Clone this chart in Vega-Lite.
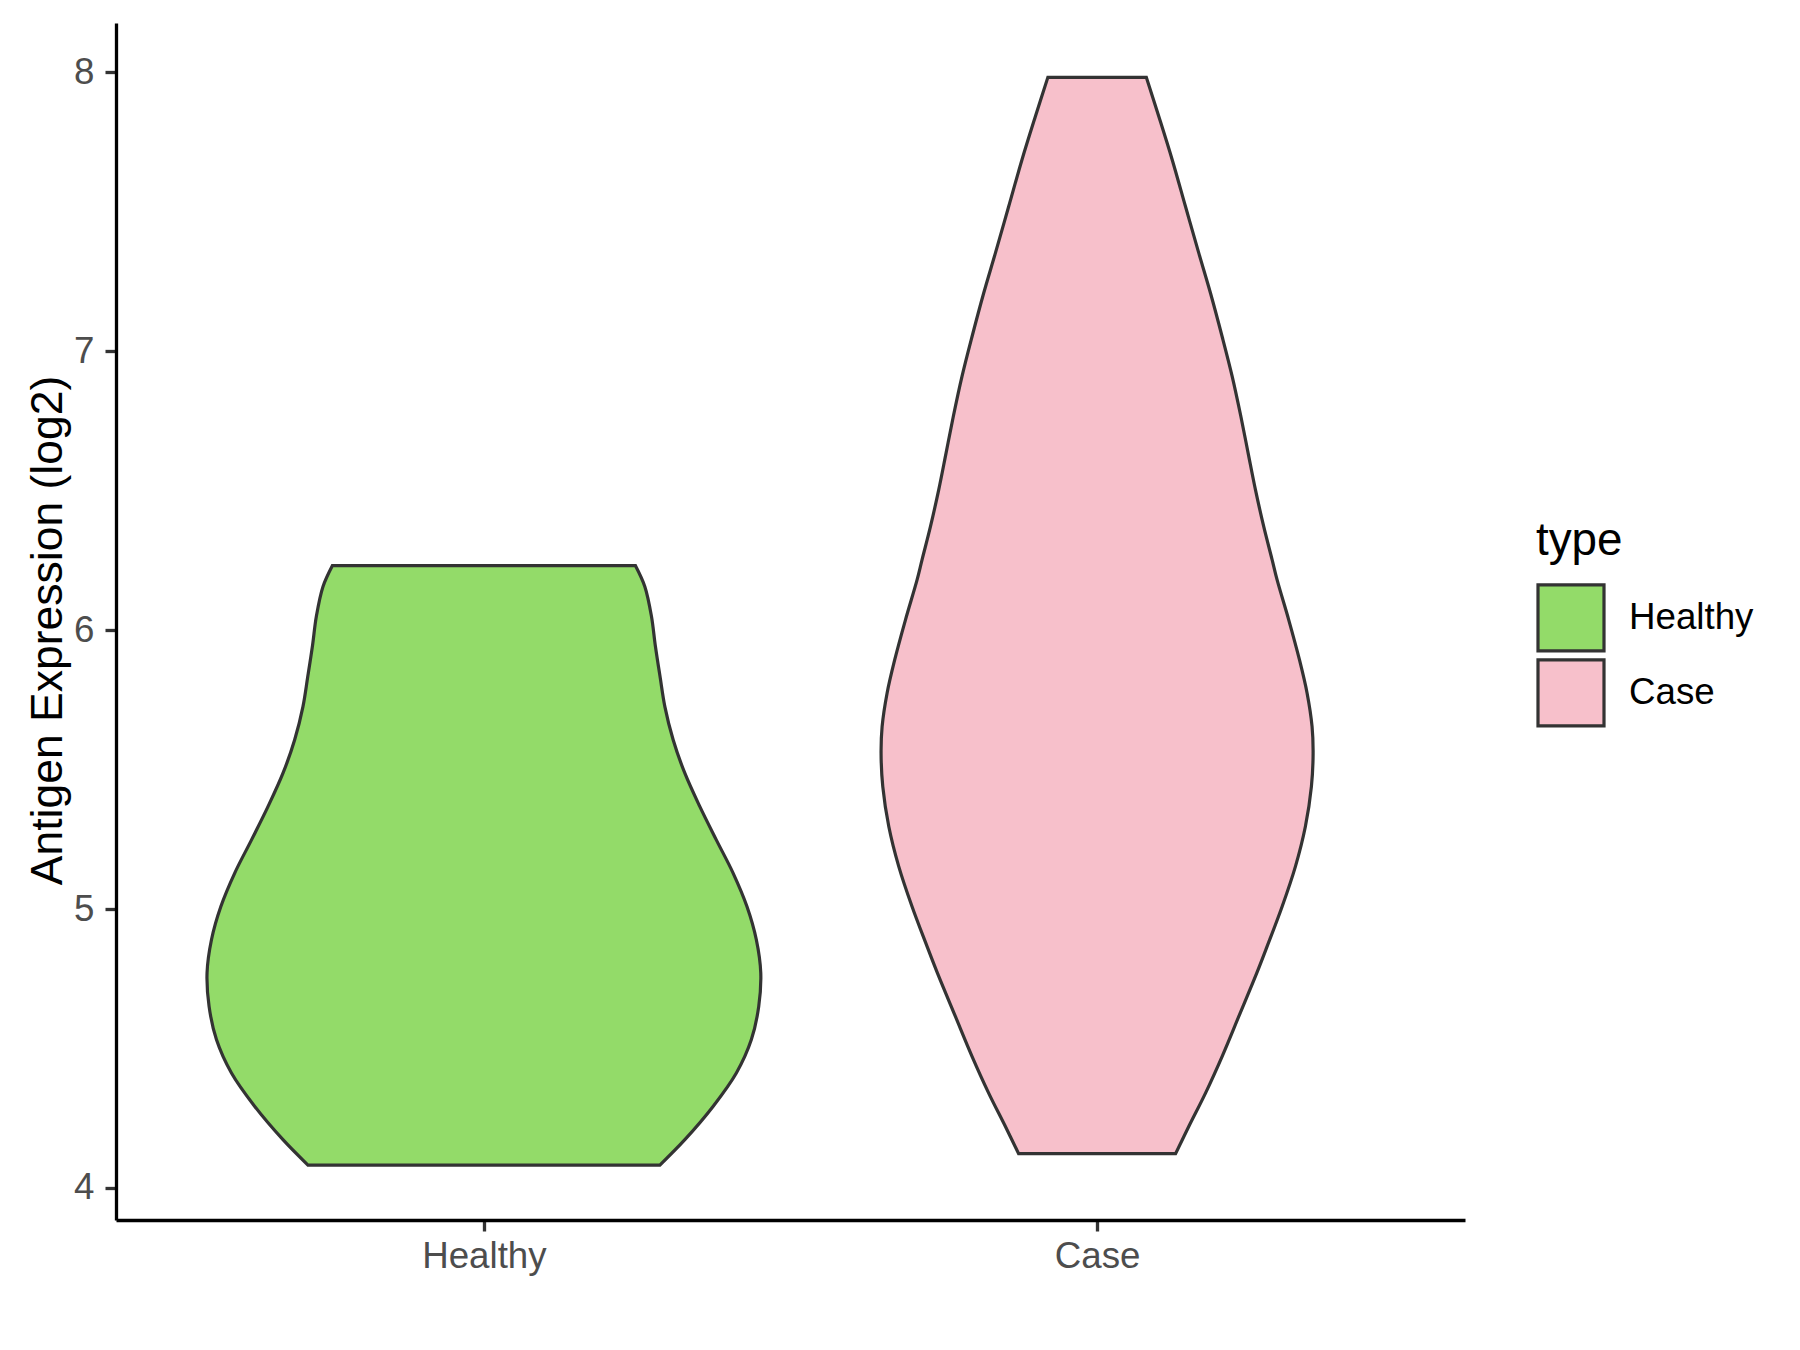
{
  "$schema": "https://vega.github.io/schema/vega-lite/v6.json",
  "autosize": {"type": "none"},
  "padding": {"left": 116, "top": 23, "right": 335, "bottom": 130},
  "width": 1349,
  "height": 1197,
  "background": "white",
  "data": {
    "values": [
      {"type": "Healthy", "y": 4.082, "lo": 0.713, "hi": 1.287},
      {"type": "Healthy", "y": 4.173, "lo": 0.6723, "hi": 1.3277},
      {"type": "Healthy", "y": 4.293, "lo": 0.626, "hi": 1.374},
      {"type": "Healthy", "y": 4.412, "lo": 0.5883, "hi": 1.4117},
      {"type": "Healthy", "y": 4.532, "lo": 0.5638, "hi": 1.4362},
      {"type": "Healthy", "y": 4.651, "lo": 0.5518, "hi": 1.4482},
      {"type": "Healthy", "y": 4.771, "lo": 0.5485, "hi": 1.4515},
      {"type": "Healthy", "y": 4.890, "lo": 0.5557, "hi": 1.4443},
      {"type": "Healthy", "y": 5.009, "lo": 0.571, "hi": 1.429},
      {"type": "Healthy", "y": 5.129, "lo": 0.5936, "hi": 1.4064},
      {"type": "Healthy", "y": 5.248, "lo": 0.621, "hi": 1.379},
      {"type": "Healthy", "y": 5.368, "lo": 0.648, "hi": 1.352},
      {"type": "Healthy", "y": 5.487, "lo": 0.6723, "hi": 1.3277},
      {"type": "Healthy", "y": 5.607, "lo": 0.6914, "hi": 1.3086},
      {"type": "Healthy", "y": 5.726, "lo": 0.7049, "hi": 1.2951},
      {"type": "Healthy", "y": 5.830, "lo": 0.7125, "hi": 1.2875},
      {"type": "Healthy", "y": 5.945, "lo": 0.7205, "hi": 1.2795},
      {"type": "Healthy", "y": 6.049, "lo": 0.7267, "hi": 1.2733},
      {"type": "Healthy", "y": 6.156, "lo": 0.7375, "hi": 1.2625},
      {"type": "Healthy", "y": 6.231, "lo": 0.7528, "hi": 1.2472},
      {"type": "Case", "y": 4.123, "lo": 1.872, "hi": 2.128},
      {"type": "Case", "y": 4.221, "lo": 1.8503, "hi": 2.1497},
      {"type": "Case", "y": 4.341, "lo": 1.823, "hi": 2.177},
      {"type": "Case", "y": 4.472, "lo": 1.796, "hi": 2.204},
      {"type": "Case", "y": 4.615, "lo": 1.7689, "hi": 2.2311},
      {"type": "Case", "y": 4.771, "lo": 1.7395, "hi": 2.2605},
      {"type": "Case", "y": 4.866, "lo": 1.7227, "hi": 2.2773},
      {"type": "Case", "y": 5.009, "lo": 1.6982, "hi": 2.3018},
      {"type": "Case", "y": 5.153, "lo": 1.6765, "hi": 2.3235},
      {"type": "Case", "y": 5.296, "lo": 1.6603, "hi": 2.3397},
      {"type": "Case", "y": 5.439, "lo": 1.6505, "hi": 2.3495},
      {"type": "Case", "y": 5.559, "lo": 1.6477, "hi": 2.3523},
      {"type": "Case", "y": 5.654, "lo": 1.6494, "hi": 2.3506},
      {"type": "Case", "y": 5.774, "lo": 1.6575, "hi": 2.3425},
      {"type": "Case", "y": 5.894, "lo": 1.670, "hi": 2.330},
      {"type": "Case", "y": 6.037, "lo": 1.6875, "hi": 2.3125},
      {"type": "Case", "y": 6.180, "lo": 1.7064, "hi": 2.2936},
      {"type": "Case", "y": 6.252, "lo": 1.7145, "hi": 2.2855},
      {"type": "Case", "y": 6.371, "lo": 1.7282, "hi": 2.2718},
      {"type": "Case", "y": 6.503, "lo": 1.7417, "hi": 2.2583},
      {"type": "Case", "y": 6.634, "lo": 1.7536, "hi": 2.2464},
      {"type": "Case", "y": 6.766, "lo": 1.7655, "hi": 2.2345},
      {"type": "Case", "y": 6.909, "lo": 1.7796, "hi": 2.2204},
      {"type": "Case", "y": 7.052, "lo": 1.796, "hi": 2.204},
      {"type": "Case", "y": 7.208, "lo": 1.815, "hi": 2.185},
      {"type": "Case", "y": 7.351, "lo": 1.834, "hi": 2.166},
      {"type": "Case", "y": 7.518, "lo": 1.8557, "hi": 2.1443},
      {"type": "Case", "y": 7.686, "lo": 1.8774, "hi": 2.1226},
      {"type": "Case", "y": 7.841, "lo": 1.8992, "hi": 2.1008},
      {"type": "Case", "y": 7.982, "lo": 1.9197, "hi": 2.0803}
    ]
  },
  "mark": {
    "type": "area",
    "orient": "horizontal",
    "interpolate": "catmull-rom",
    "stroke": "#333333",
    "strokeWidth": 3.2,
    "opacity": 1,
    "fillOpacity": 1
  },
  "encoding": {
    "y": {
      "field": "y",
      "type": "quantitative",
      "scale": {"domain": [3.885, 8.177], "nice": false, "zero": false},
      "axis": {
        "title": "Antigen Expression (log2)",
        "values": [4, 5, 6, 7, 8],
        "labelPadding": 11,
        "titlePadding": 3,
        "titleY": 607,
        "titleFontSize": 44.5
      }
    },
    "x": {
      "field": "lo",
      "type": "quantitative",
      "scale": {"domain": [0.4, 2.6], "nice": false, "zero": false},
      "axis": {
        "title": null,
        "values": [1, 2],
        "labelExpr": "datum.value == 1 ? 'Healthy' : 'Case'",
        "labelPadding": 7.5
      }
    },
    "x2": {"field": "hi"},
    "color": {
      "field": "type",
      "type": "nominal",
      "scale": {"domain": ["Healthy", "Case"], "range": ["#93DB69", "#F7C0CB"]},
      "legend": {
        "title": "type",
        "orient": "none",
        "legendX": 1420,
        "legendY": 496,
        "symbolType": "square",
        "symbolSize": 4356,
        "symbolStrokeColor": "#333333",
        "symbolStrokeWidth": 3.2,
        "symbolOpacity": 1,
        "rowPadding": -10,
        "labelOffset": 23,
        "titlePadding": 18,
        "padding": 0
      }
    }
  },
  "config": {
    "view": {"stroke": null},
    "font": "Liberation Sans",
    "axis": {
      "grid": false,
      "domainColor": "#000000",
      "domainWidth": 3.3,
      "tickColor": "#333333",
      "tickWidth": 3.3,
      "tickSize": 11,
      "labelFont": "Liberation Sans",
      "labelFontSize": 36.7,
      "labelColor": "#4D4D4D",
      "titleFont": "Liberation Sans",
      "titleFontSize": 45.8,
      "titleFontWeight": "normal",
      "titleColor": "#000000"
    },
    "legend": {
      "titleFont": "Liberation Sans",
      "titleFontSize": 45.8,
      "titleFontWeight": "normal",
      "titleColor": "#000000",
      "labelFont": "Liberation Sans",
      "labelFontSize": 36.7,
      "labelColor": "#000000"
    }
  }
}
